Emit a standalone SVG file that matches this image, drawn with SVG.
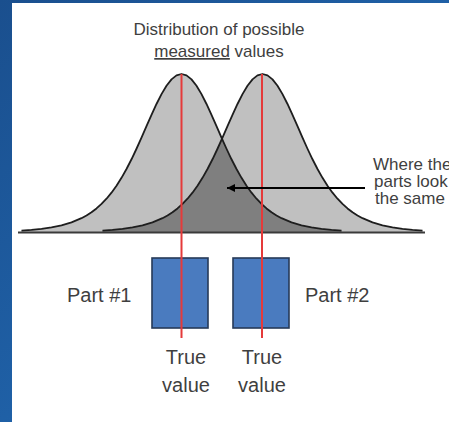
<svg xmlns="http://www.w3.org/2000/svg" xmlns:xlink="http://www.w3.org/1999/xlink" width="449" height="422" viewBox="0 0 449 422">
  <defs>
    <linearGradient id="bg" x1="0" y1="0" x2="1" y2="1">
      <stop offset="0" stop-color="#1a4f8e"/>
      <stop offset="0.5" stop-color="#1f60a6"/>
      <stop offset="1" stop-color="#2a72bb"/>
    </linearGradient>
    <path id="curveL" d="M21.5,230.58 L31.5,229.86 L41.5,228.84 L51.5,227.4 L61.5,225.33 L71.5,222.37 L81.5,218.18 L86.5,215.46 L91.5,212.24 L96.5,208.43 L101.5,203.95 L106.5,198.73 L111.5,192.67 L116.5,185.72 L121.5,177.83 L126.5,169.01 L131.5,159.27 L136.5,148.75 L141.5,137.64 L146.5,126.22 L151.5,114.84 L156.5,103.97 L161.5,94.1 L166.5,85.73 L171.5,79.36 L176.5,75.36 L181.5,74 L186.5,75.36 L191.5,79.36 L196.5,85.73 L201.5,94.1 L206.5,103.97 L211.5,114.84 L216.5,126.22 L221.5,137.64 L226.5,148.75 L231.5,159.27 L236.5,169.01 L241.5,177.83 L246.5,185.72 L251.5,192.67 L256.5,198.73 L261.5,203.95 L266.5,208.43 L271.5,212.24 L276.5,215.46 L281.5,218.18 L291.5,222.37 L301.5,225.33 L311.5,227.4 L321.5,228.84 L331.5,229.86 L341.5,230.58"/>
    <path id="curveR" d="M102.5,230.58 L112.5,229.86 L122.5,228.84 L132.5,227.4 L142.5,225.33 L152.5,222.37 L162.5,218.18 L167.5,215.46 L172.5,212.24 L177.5,208.43 L182.5,203.95 L187.5,198.73 L192.5,192.67 L197.5,185.72 L202.5,177.83 L207.5,169.01 L212.5,159.27 L217.5,148.75 L222.5,137.64 L227.5,126.22 L232.5,114.84 L237.5,103.97 L242.5,94.1 L247.5,85.73 L252.5,79.36 L257.5,75.36 L262.5,74 L267.5,75.36 L272.5,79.36 L277.5,85.73 L282.5,94.1 L287.5,103.97 L292.5,114.84 L297.5,126.22 L302.5,137.64 L307.5,148.75 L312.5,159.27 L317.5,169.01 L322.5,177.83 L327.5,185.72 L332.5,192.67 L337.5,198.73 L342.5,203.95 L347.5,208.43 L352.5,212.24 L357.5,215.46 L362.5,218.18 L372.5,222.37 L382.5,225.33 L392.5,227.4 L402.5,228.84 L412.5,229.86 L422.5,230.58"/>
    <clipPath id="clipR">
      <path d="M102.5,232.5 L102.5,230.58 L112.5,229.86 L122.5,228.84 L132.5,227.4 L142.5,225.33 L152.5,222.37 L162.5,218.18 L167.5,215.46 L172.5,212.24 L177.5,208.43 L182.5,203.95 L187.5,198.73 L192.5,192.67 L197.5,185.72 L202.5,177.83 L207.5,169.01 L212.5,159.27 L217.5,148.75 L222.5,137.64 L227.5,126.22 L232.5,114.84 L237.5,103.97 L242.5,94.1 L247.5,85.73 L252.5,79.36 L257.5,75.36 L262.5,74 L267.5,75.36 L272.5,79.36 L277.5,85.73 L282.5,94.1 L287.5,103.97 L292.5,114.84 L297.5,126.22 L302.5,137.64 L307.5,148.75 L312.5,159.27 L317.5,169.01 L322.5,177.83 L327.5,185.72 L332.5,192.67 L337.5,198.73 L342.5,203.95 L347.5,208.43 L352.5,212.24 L357.5,215.46 L362.5,218.18 L372.5,222.37 L382.5,225.33 L392.5,227.4 L402.5,228.84 L412.5,229.86 L422.5,230.58 L422.5,232.5 Z"/>
    </clipPath>
    <marker id="arrow" markerWidth="10" markerHeight="10" refX="8" refY="4" orient="auto" markerUnits="userSpaceOnUse">
      <path d="M0,0 L8,4 L0,8 Z" fill="#000"/>
    </marker>
    <style>
      .lbl { font-family: "Liberation Sans", Arial, sans-serif; fill: #3f3f3f; }
      .t17 { font-size: 17px; }
      .t20 { font-size: 20px; }
      .fillLight { fill: #c0c0c0; stroke: none; }
      .fillDark { fill: #7f7f7f; stroke: none; }
      .curve { fill: none; stroke: #1e1e1e; stroke-width: 1.8; stroke-linejoin: round; }
      .red { stroke: #e53a3a; stroke-width: 2; }
      .part { fill: #4a7bbf; stroke: #263a58; stroke-width: 1.6; }
    </style>
  </defs>

  <rect x="0" y="0" width="449" height="422" fill="url(#bg)"/>
  <rect x="12" y="3" width="437" height="419" fill="#ffffff"/>

  <g id="distributions">
    <path class="fillLight" d="M21.5,232.5 L21.5,230.58 L31.5,229.86 L41.5,228.84 L51.5,227.4 L61.5,225.33 L71.5,222.37 L81.5,218.18 L86.5,215.46 L91.5,212.24 L96.5,208.43 L101.5,203.95 L106.5,198.73 L111.5,192.67 L116.5,185.72 L121.5,177.83 L126.5,169.01 L131.5,159.27 L136.5,148.75 L141.5,137.64 L146.5,126.22 L151.5,114.84 L156.5,103.97 L161.5,94.1 L166.5,85.73 L171.5,79.36 L176.5,75.36 L181.5,74 L186.5,75.36 L191.5,79.36 L196.5,85.73 L201.5,94.1 L206.5,103.97 L211.5,114.84 L216.5,126.22 L221.5,137.64 L226.5,148.75 L231.5,159.27 L236.5,169.01 L241.5,177.83 L246.5,185.72 L251.5,192.67 L256.5,198.73 L261.5,203.95 L266.5,208.43 L271.5,212.24 L276.5,215.46 L281.5,218.18 L291.5,222.37 L301.5,225.33 L311.5,227.4 L321.5,228.84 L331.5,229.86 L341.5,230.58 L341.5,232.5 Z"/>
    <path class="fillLight" d="M102.5,232.5 L102.5,230.58 L112.5,229.86 L122.5,228.84 L132.5,227.4 L142.5,225.33 L152.5,222.37 L162.5,218.18 L167.5,215.46 L172.5,212.24 L177.5,208.43 L182.5,203.95 L187.5,198.73 L192.5,192.67 L197.5,185.72 L202.5,177.83 L207.5,169.01 L212.5,159.27 L217.5,148.75 L222.5,137.64 L227.5,126.22 L232.5,114.84 L237.5,103.97 L242.5,94.1 L247.5,85.73 L252.5,79.36 L257.5,75.36 L262.5,74 L267.5,75.36 L272.5,79.36 L277.5,85.73 L282.5,94.1 L287.5,103.97 L292.5,114.84 L297.5,126.22 L302.5,137.64 L307.5,148.75 L312.5,159.27 L317.5,169.01 L322.5,177.83 L327.5,185.72 L332.5,192.67 L337.5,198.73 L342.5,203.95 L347.5,208.43 L352.5,212.24 L357.5,215.46 L362.5,218.18 L372.5,222.37 L382.5,225.33 L392.5,227.4 L402.5,228.84 L412.5,229.86 L422.5,230.58 L422.5,232.5 Z"/>
    <path class="fillDark" clip-path="url(#clipR)" d="M21.5,232.5 L21.5,230.58 L31.5,229.86 L41.5,228.84 L51.5,227.4 L61.5,225.33 L71.5,222.37 L81.5,218.18 L86.5,215.46 L91.5,212.24 L96.5,208.43 L101.5,203.95 L106.5,198.73 L111.5,192.67 L116.5,185.72 L121.5,177.83 L126.5,169.01 L131.5,159.27 L136.5,148.75 L141.5,137.64 L146.5,126.22 L151.5,114.84 L156.5,103.97 L161.5,94.1 L166.5,85.73 L171.5,79.36 L176.5,75.36 L181.5,74 L186.5,75.36 L191.5,79.36 L196.5,85.73 L201.5,94.1 L206.5,103.97 L211.5,114.84 L216.5,126.22 L221.5,137.64 L226.5,148.75 L231.5,159.27 L236.5,169.01 L241.5,177.83 L246.5,185.72 L251.5,192.67 L256.5,198.73 L261.5,203.95 L266.5,208.43 L271.5,212.24 L276.5,215.46 L281.5,218.18 L291.5,222.37 L301.5,225.33 L311.5,227.4 L321.5,228.84 L331.5,229.86 L341.5,230.58 L341.5,232.5 Z"/>
    <use xlink:href="#curveL" class="curve"/>
    <use xlink:href="#curveR" class="curve"/>
    <line x1="18" y1="232.5" x2="425" y2="232.5" stroke="#3a3a3a" stroke-width="2"/>
  </g>

  <g id="title">
    <text class="lbl t17" x="219" y="35" text-anchor="middle">Distribution of possible</text>
    <text class="lbl t17" x="219" y="57" text-anchor="middle"><tspan text-decoration="underline">measured</tspan> values</text>
  </g>

  <g id="part1">
    <rect class="part" x="152" y="258" width="56" height="70"/>
    <text class="lbl t20" x="67" y="302">Part #1</text>
  </g>
  <g id="part2">
    <rect class="part" x="233" y="258" width="56" height="70"/>
    <text class="lbl t20" x="305" y="302">Part #2</text>
  </g>

  <g id="truevalues">
    <line class="red" x1="181.5" y1="74" x2="181.5" y2="338"/>
    <line class="red" x1="262" y1="74" x2="262" y2="338"/>
    <text class="lbl t20" x="186" y="364" text-anchor="middle">True</text>
    <text class="lbl t20" x="186" y="392" text-anchor="middle">value</text>
    <text class="lbl t20" x="262" y="364" text-anchor="middle">True</text>
    <text class="lbl t20" x="262" y="392" text-anchor="middle">value</text>
  </g>

  <g id="overlap-label">
    <text class="lbl t17" x="373" y="170">Where the</text>
    <text class="lbl t17" x="374" y="187">parts look</text>
    <text class="lbl t17" x="375" y="204">the same</text>
  </g>

  <g id="connectors">
    <line x1="365" y1="188" x2="227" y2="188" stroke="#000" stroke-width="2.2" marker-end="url(#arrow)"/>
  </g>
</svg>
